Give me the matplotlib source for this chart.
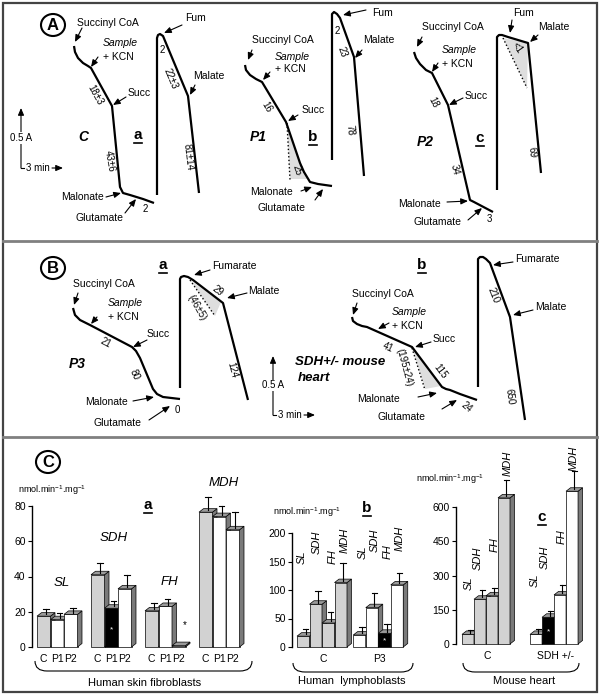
import matplotlib
matplotlib.use('Agg')
import matplotlib.pyplot as plt
from matplotlib.patches import Ellipse, Polygon, Rectangle, PathPatch
from matplotlib.path import Path

plt.rcParams['font.family'] = ['Liberation Sans', 'DejaVu Sans']
plt.rcParams['mathtext.fontset'] = 'custom'
plt.rcParams['mathtext.rm'] = 'Liberation Sans'
plt.rcParams['mathtext.it'] = 'Liberation Sans:italic'
plt.rcParams['mathtext.bf'] = 'Liberation Sans:bold'

W, H = 600, 695

# ---- oxygraph traces (x = time, y = signal, picture pixels)
a_c_succ_x = [74, 75, 78, 83, 88, 91, 112, 120, 123, 130, 143, 154]
a_c_succ_y = [46, 52, 58, 63, 66, 68, 106, 187, 193, 195, 199, 203]
a_c_fum_x = [157, 157, 158, 160, 163, 188, 199]
a_c_fum_y = [195, 38, 35, 34, 36, 96, 193]

a_p1_succ_x = [245, 246, 250, 256, 262, 286, 300, 304, 310, 318, 332]
a_p1_succ_y = [65, 70, 75, 79, 82, 122, 163, 172, 182, 184, 186]
a_p1_fum_x = [332, 332, 334, 337, 340, 354, 364]
a_p1_fum_y = [160, 14, 12, 14, 18, 57, 176]

a_p2_succ_x = [414, 416, 420, 426, 432, 448, 470, 474, 493]
a_p2_succ_y = [52, 58, 64, 70, 73, 105, 200, 202, 212]
a_p2_fum_x = [497, 497, 499, 502, 508, 528, 541]
a_p2_fum_y = [190, 37, 35, 35, 37, 43, 173]

b_p3_succ_x = [73, 75, 80, 86, 90, 132, 136, 140, 153, 157, 163, 180]
b_p3_succ_y = [308, 315, 320, 323, 325, 347, 351, 358, 389, 394, 397, 399]
b_p3_fum_x = [180, 180, 181, 184, 188, 193, 223, 248]
b_p3_fum_y = [388, 279, 277, 276, 277, 280, 303, 400]

b_mouse_succ_x = [352, 353, 357, 362, 367, 412, 442, 446, 450, 460, 477]
b_mouse_succ_y = [317, 321, 324, 326, 327, 347, 387, 389, 390, 394, 400]
b_mouse_fum_x = [478, 478, 480, 483, 486, 490, 510, 525]
b_mouse_fum_y = [387, 259, 257, 257, 259, 263, 317, 420]

# ---- enzyme activities (nmol/min/mg)
enzymes = ['SL', 'SDH', 'FH', 'MDH']
fibro_samples = ['C', 'P1', 'P2']
fibro_vals = [[17.5, 15.5, 18.5], [41, 22, 33], [20.5, 23, 0.8], [76.5, 74, 66.5]]
fibro_errs = [[3.8, 3.8, 3.8], [6.5, 4, 8], [4.5, 4.5, 0], [8.5, 6, 10]]
fibro_ticks = [0, 20, 40, 60, 80]

lympho_samples = ['C', 'P3']
lympho_vals = [[19, 75, 42, 113], [21, 69, 24, 109]]
lympho_errs = [[13, 24, 20, 34], [14, 25, 17, 20]]
lympho_ticks = [0, 50, 100, 150, 200]

heart_samples = ['C', 'SDH +/-']
heart_vals = [[42, 196, 211, 640], [42, 117, 215, 669]]
heart_errs = [[19, 41, 34, 78], [22, 29, 44, 88]]
heart_ticks = [0, 150, 300, 450, 600]

# bar fills (g = control grey, w = patient, k = deficient)
fibro_fill = [['g', 'w', 'w'], ['g', 'k', 'w'], ['g', 'w', 'w'], ['g', 'w', 'w']]
lympho_fill = [['g', 'g', 'g', 'g'], ['w', 'w', 'k', 'w']]
heart_fill = [['g', 'g', 'g', 'g'], ['w', 'k', 'w', 'w']]
FILL = {'g': '#d2d2d2', 'w': 'white', 'k': 'black'}

fig = plt.figure(figsize=(6, 6.95), dpi=100)
ax = fig.add_axes([0, 0, 1, 1])
ax.set_xlim(0, W)
ax.set_ylim(H, 0)
ax.axis('off')

FS = 7.5


def txt(x, y, s, **kw):
    kw.setdefault('fontsize', FS)
    kw.setdefault('ha', 'left')
    kw.setdefault('va', 'center')
    ax.text(x, y, s, **kw)


def arrow(x0, y0, x1, y1):
    ax.annotate('', xy=(x1, y1), xytext=(x0, y0),
                arrowprops=dict(arrowstyle='-|>,head_length=0.7,head_width=0.3',
                                lw=0.8, color='k', shrinkA=0, shrinkB=0,
                                mutation_scale=6))


def ul(x, y, s, size=11):
    ax.text(x, y, s, fontsize=size, fontweight='bold', ha='center', va='center')
    ax.plot([x - 4, x + 4], [y + 8, y + 8], color='k', lw=1.2)


def circ(x, y, s):
    ax.add_patch(Ellipse((x, y), 24, 22, fill=False, ec='k', lw=1.5))
    ax.text(x, y + 0.5, s, fontsize=12, fontweight='bold', ha='center', va='center')


def trace(xs, ys):
    ax.plot(xs, ys, color='k', lw=1.6, solid_capstyle='butt', solid_joinstyle='round')


def rot(x, y, s, r, size=7):
    ax.text(x, y, s, fontsize=size, rotation=r, ha='center', va='center',
            rotation_mode='anchor')


def scalebar(x, y0, y1):
    arrow(x, y0, x, y1)
    ax.plot([x, x + 3], [y0, y0], color='k', lw=0.8)
    ax.text(x, (y0 + y1) / 2, '0.5 A', fontsize=7, ha='center', va='center',
            bbox=dict(fc='white', ec='none', pad=0.5))
    txt(x + 5, y0, '3 min', fontsize=7)
    arrow(x + 31, y0, x + 42, y0)


# ---- frame
ax.add_patch(Rectangle((3, 3), 594, 689, fill=False, ec='#444444', lw=1.6))
ax.plot([3, 597], [241, 241], color='#808080', lw=2)
ax.plot([3, 597], [437, 437], color='#808080', lw=2)

# ================= panel A
circ(53, 25, 'A')
trace(a_c_succ_x, a_c_succ_y)
trace(a_c_fum_x, a_c_fum_y)
txt(77, 23, 'Succinyl CoA'); arrow(82, 28, 75, 42)
txt(103, 43, 'Sample', style='italic'); txt(103, 57, '+ KCN'); arrow(98, 57, 91, 67)
txt(128, 93, 'Succ'); arrow(126, 97, 113, 105)
txt(104, 197, 'Malonate', ha='right'); arrow(106, 197, 121, 193)
txt(75, 218, 'Glutamate'); arrow(125, 213, 136, 199)
txt(185, 18, 'Fum'); arrow(182, 25, 164, 33)
txt(193, 76, 'Malate'); arrow(195, 85, 190, 95)
ax.text(83, 137, 'C', fontsize=10, fontweight='bold', style='italic', ha='center', va='center')
ul(138, 135, 'a')
rot(95, 95, '18±3', -61); rot(110, 161, '43±6', -80); txt(145, 209, '2', ha='center', fontsize=7)
txt(162, 50, '2', ha='center', fontsize=7); rot(171, 79, '22±3', -67); rot(188, 157, '81±14', -83)
scalebar(21, 168, 108)

trace(a_p1_succ_x, a_p1_succ_y)
trace(a_p1_fum_x, a_p1_fum_y)
ax.add_patch(Polygon([(287, 123), (300, 163), (304, 172), (308, 179), (290, 179)],
                     fc='#dedede', ec='none', zorder=1))
ax.plot([287, 290], [123, 180], color='k', lw=1, ls=':')
txt(252, 40, 'Succinyl CoA'); arrow(252, 50, 248, 60)
txt(275, 57, 'Sample', style='italic'); txt(275, 69, '+ KCN'); arrow(270, 72, 263, 80)
txt(302, 110, 'Succ'); arrow(298, 115, 288, 121)
txt(250, 192, 'Malonate'); arrow(301, 191, 312, 187)
txt(257, 208, 'Glutamate'); arrow(315, 200, 323, 189)
txt(372, 13, 'Fum'); arrow(366, 10, 343, 15)
txt(363, 40, 'Malate'); arrow(362, 50, 355, 58)
ax.text(258, 137, 'P1', fontsize=10, fontweight='bold', style='italic', ha='center', va='center')
ul(313, 137, 'b')
rot(267, 107, '16', -59); rot(297, 170, '25', -72)
txt(337, 31, '2', ha='center', fontsize=7); rot(342, 52, '23', -70); rot(350, 130, '78', -85)

trace(a_p2_succ_x, a_p2_succ_y)
trace(a_p2_fum_x, a_p2_fum_y)
ax.add_patch(Polygon([(503, 38), (528, 43), (527, 88)], fc='#dedede', ec='none', zorder=1))
ax.plot([503, 527], [38, 88], color='k', lw=1, ls=':')
txt(422, 27, 'Succinyl CoA'); arrow(422, 37, 417, 47)
txt(442, 50, 'Sample', style='italic'); txt(442, 64, '+ KCN'); arrow(438, 63, 432, 72)
txt(465, 96, 'Succ'); arrow(463, 98, 449, 105)
txt(398, 204, 'Malonate'); arrow(447, 202, 468, 201)
txt(413, 222, 'Glutamate'); arrow(468, 220, 482, 208)
txt(513, 13, 'Fum'); arrow(512, 20, 510, 33)
txt(538, 27, 'Malate'); arrow(538, 35, 530, 42)
ax.text(425, 142, 'P2', fontsize=10, fontweight='bold', style='italic', ha='center', va='center')
ul(480, 138, 'c')
rot(433, 102, '18', -63); rot(455, 170, '34', -77); txt(489, 219, '3', ha='center', fontsize=7)
rot(517, 48, '<1', -55); rot(532, 152, '69', -85)

# ================= panel B
circ(53, 268, 'B')
ul(163, 265, 'a')
trace(b_p3_succ_x, b_p3_succ_y)
trace(b_p3_fum_x, b_p3_fum_y)
ax.add_patch(Polygon([(190, 280), (221, 302), (215, 316)], fc='#dedede', ec='none', zorder=1))
ax.plot([190, 215], [280, 316], color='k', lw=1, ls=':')
txt(73, 284, 'Succinyl CoA'); arrow(78, 293, 74, 305)
txt(108, 303, 'Sample', style='italic'); txt(108, 317, '+ KCN'); arrow(97, 317, 91, 324)
txt(147, 334, 'Succ'); arrow(147, 340, 133, 347)
txt(85, 402, 'Malonate'); arrow(133, 401, 154, 397)
txt(93, 423, 'Glutamate'); arrow(149, 420, 170, 406)
txt(212, 266, 'Fumarate'); arrow(210, 270, 194, 275)
txt(248, 291, 'Malate'); arrow(247, 293, 227, 298)
ax.text(77, 364, 'P3', fontsize=10, fontweight='bold', style='italic', ha='center', va='center')
rot(106, 343, '21', -28); rot(135, 375, '80', -66); txt(177, 410, '0', ha='center', fontsize=7)
rot(218, 291, '29', -37); rot(197, 308, '(46±5)', -60); rot(232, 370, '124', -75)
scalebar(273, 415, 356)
txt(295, 362, 'SDH+/- mouse', fontsize=9.5, fontweight='bold', style='italic')
txt(298, 378, 'heart', fontsize=9.5, fontweight='bold', style='italic')

ul(422, 265, 'b')
trace(b_mouse_succ_x, b_mouse_succ_y)
trace(b_mouse_fum_x, b_mouse_fum_y)
ax.add_patch(Polygon([(412, 348), (441, 386), (425, 389)], fc='#dedede', ec='none', zorder=1))
ax.plot([412, 425], [348, 390], color='k', lw=1, ls=':')
txt(352, 294, 'Succinyl CoA'); arrow(357, 303, 353, 315)
txt(392, 312, 'Sample', style='italic'); txt(392, 326, '+ KCN'); arrow(389, 323, 378, 329)
txt(433, 339, 'Succ'); arrow(431, 342, 415, 347)
txt(357, 399, 'Malonate'); arrow(418, 397, 437, 393)
txt(378, 417, 'Glutamate'); arrow(442, 409, 457, 400)
txt(515, 259, 'Fumarate'); arrow(513, 262, 493, 265)
txt(535, 307, 'Malate'); arrow(533, 310, 513, 315)
rot(388, 347, '41', -24); rot(404, 368, '(195±24)', -75); rot(440, 371, '115', -53)
rot(467, 407, '24', -40); rot(493, 295, '210', -68); rot(510, 397, '650', -82)

# ================= panel C (bar charts)
circ(48, 462, 'C')

DX, DY = 4.5, 3.5  # bar depth in pixels
TOP_C, SIDE_C = '#9a9a9a', '#7a7a7a'


def px_axes(left, right, top, bottom):
    a = fig.add_axes([left / W, 1 - bottom / H, (right - left) / W, (bottom - top) / H])
    a.patch.set_alpha(0)
    for s in ['top', 'right', 'bottom']:
        a.spines[s].set_visible(False)
    a.spines['left'].set_linewidth(1)
    a.tick_params(axis='y', length=3, width=0.8, labelsize=7.5, pad=1.5)
    a.tick_params(axis='x', length=0, labelsize=7.5, pad=5)
    return a


def bars(a, x0, vals, errs, fills, bw, ppu, k0):
    dx = DX / bw
    dy = DY / ppu
    for i, (v, e, f) in enumerate(zip(vals, errs, fills)):
        x = x0 + i
        z = 1 + (k0 + i) * 0.01
        a.add_patch(Rectangle((x, 0), 1, v, fc=FILL[f], ec='k', lw=0.5, zorder=z, clip_on=False))
        a.add_patch(Polygon([(x + 1, 0), (x + 1 + dx, dy), (x + 1 + dx, v + dy), (x + 1, v)],
                            fc=SIDE_C, ec='k', lw=0.5, zorder=z, clip_on=False))
        a.add_patch(Polygon([(x, v), (x + dx, v + dy), (x + 1 + dx, v + dy), (x + 1, v)],
                            fc=TOP_C, ec='k', lw=0.5, zorder=z, clip_on=False))
        if e > 0:
            xc = x + 0.5 + dx / 2
            a.plot([xc, xc], [v + dy / 2, v + e], color='k', lw=0.8, zorder=3, clip_on=False)
            a.plot([xc - 0.22, xc + 0.22], [v + e, v + e], color='k', lw=0.8, zorder=3, clip_on=False)
        if f == 'k':
            a.text(x + 0.5, v * 0.45, '*', color='white', fontsize=6, ha='center', va='center', zorder=4)


# a: fibroblasts
bw_a = 13.5
ax_a = px_axes(32, 250, 506, 647)
ax_a.set_xlim(-5 / bw_a, -5 / bw_a + 218 / bw_a)
ax_a.set_ylim(0, 80)
ax_a.set_yticks(fibro_ticks)
xt, xl = [], []
for g in range(len(enzymes)):
    bars(ax_a, 4 * g, fibro_vals[g], fibro_errs[g], fibro_fill[g], bw_a, 141 / 80, g * 4)
    xt += [4 * g + s + 0.5 for s in range(len(fibro_samples))]
    xl += fibro_samples
ax_a.set_xticks(xt)
ax_a.set_xticklabels(xl)
txt(185, 625, '*', ha='center', fontsize=7)
txt(18, 490, r'nmol.min$^{-1}$.mg$^{-1}$', fontsize=6.5)
ul(148, 505, 'a')
for s, x, y in zip(enzymes, [62, 114, 169, 224], [583, 538, 582, 483]):
    txt(x, y, s, ha='center', style='italic', fontsize=9.5)

# b: lymphoblasts
bw_b = 12.5
ax_b = px_axes(292, 418, 533, 647)
ax_b.set_xlim(-5 / bw_b, -5 / bw_b + 126 / bw_b)
ax_b.set_ylim(0, 200)
ax_b.set_yticks(lympho_ticks)
for g in range(len(lympho_samples)):
    bars(ax_b, 4.5 * g, lympho_vals[g], lympho_errs[g], lympho_fill[g], bw_b, 114 / 200, g * 4)
ax_b.set_xticks([4.5 * g + 2.1 for g in range(len(lympho_samples))])
ax_b.set_xticklabels(lympho_samples)
txt(273, 512, r'nmol.min$^{-1}$.mg$^{-1}$', fontsize=6.5)
ul(367, 508, 'b')
for xs, ys in [([302, 317, 333, 345], [557, 542, 557, 540]),
               ([363, 375, 388, 400], [552, 540, 552, 538])]:
    for s, x, y in zip(enzymes, xs, ys):
        txt(x, y, s, ha='center', style='italic', rotation=90, fontsize=8)

# c: mouse heart
bw_c = 12
ax_c = px_axes(456, 592, 507, 644)
ax_c.set_xlim(-6 / bw_c, -6 / bw_c + 136 / bw_c)
ax_c.set_ylim(0, 600)
ax_c.set_yticks(heart_ticks)
for g in range(len(heart_samples)):
    bars(ax_c, 5.67 * g, heart_vals[g], heart_errs[g], heart_fill[g], bw_c, 137 / 600, g * 4)
ax_c.set_xticks([5.67 * g + 2.1 for g in range(len(heart_samples))])
ax_c.set_xticklabels(heart_samples)
txt(416, 479, r'nmol.min$^{-1}$.mg$^{-1}$', fontsize=6.5)
ul(542, 517, 'c')
for xs, ys in [([469, 478, 495, 508], [583, 558, 545, 463]),
               ([535, 545, 562, 574], [580, 557, 537, 458])]:
    for s, x, y in zip(enzymes, xs, ys):
        txt(x, y, s, ha='center', style='italic', rotation=90, fontsize=8)


# braces and cell-type captions
def brace(x0, x1, y0, y1):
    verts = [(x0, y0), (x0, y1), (x0 + 12, y1), (x1 - 12, y1), (x1, y1), (x1, y0)]
    codes = [Path.MOVETO, Path.CURVE3, Path.CURVE3, Path.LINETO, Path.CURVE3, Path.CURVE3]
    ax.add_patch(PathPatch(Path(verts, codes), fill=False, ec='k', lw=0.8))


brace(35, 252, 661, 671)
brace(293, 413, 663, 672)
brace(463, 579, 663, 672)
txt(145, 683, 'Human skin fibroblasts', ha='center', fontsize=8)
txt(352, 681, 'Human  lymphoblasts', ha='center', fontsize=8)
txt(524, 681, 'Mouse heart', ha='center', fontsize=8)

fig.savefig('out.png', dpi=100)
